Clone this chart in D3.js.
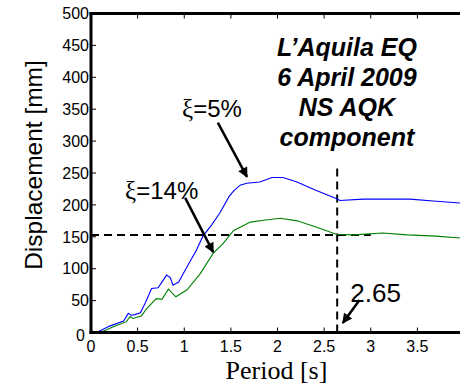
<!DOCTYPE html>
<html><head><meta charset="utf-8">
<script src="https://cdn.jsdelivr.net/npm/d3@7/dist/d3.min.js"></script>
<style>body{margin:0;background:#fff}svg{display:block}</style>
</head><body>
<svg id="c" width="460" height="386"></svg>
<script>
// ---- data ----
const bluePeriod = [0.06,0.2,0.35,0.40,0.43,0.47,0.53,0.58,0.65,0.72,0.76,0.81,0.85,0.88,0.94,1.03,1.13,1.20,1.29,1.38,1.48,1.53,1.60,1.67,1.81,1.94,2.06,2.21,2.39,2.63,2.67,2.92,3.20,3.42,3.67,3.96,4.0];
const blueDisp   = [0,10,18,30,27,28,31,46,69,70,79,90,86,74,79,103,129,151,168,187,213,222,231,234,236,243,243,236,224,210,207,209,209,209,206,203,202];
const greenPeriod = [0.10,0.24,0.38,0.42,0.45,0.54,0.60,0.70,0.76,0.83,0.91,1.03,1.17,1.31,1.42,1.48,1.53,1.71,1.85,2.03,2.21,2.42,2.63,2.81,3.13,3.39,3.70,3.96,4.0];
const greenDisp   = [0,9,17,25,22,26,38,53,52,68,56,67,92,124,140,151,160,173,176,179,175,165,154,153,156,153,151,148,148];
const xTicks = [0,0.5,1,1.5,2,2.5,3,3.5];
const xTickLabels = ["0","0.5","1","1.5","2","2.5","3","3.5"];
const yTicks = [0,50,100,150,200,250,300,350,400,450,500];
const refPeriod = 2.64, refDisp = 153, hLineEnd = 3.0, vLineTop = 260;
const titleLines = ["L\u2019Aquila EQ","6 April 2009","NS AQK","component"];
const titleX = 2.745, titleY = [434,387,339,292];
// annotation anchors in data units: [textX, textY, arrowFromX, arrowFromY, arrowToX, arrowToY]
const ann5 = [0.976,337, 1.36,329, 1.673,244];
const ann14 = [0.365,209.5, 1.01,211, 1.31,126];
const ann265 = [2.78,48, 2.88,51, 2.70,15];

// ---- drawing ----
const svg = d3.select("#c");
const x = d3.scaleLinear().domain([0,4]).range([91,464]);
const y = d3.scaleLinear().domain([0,500]).range([332.5,13.5]);
const sans = "'Liberation Sans', Arial, sans-serif";
const serif = "'Liberation Serif', 'Times New Roman', serif";

const defs = svg.append("defs");
defs.append("marker").attr("id","ah").attr("viewBox","0 0 10 10").attr("refX",9).attr("refY",5)
  .attr("markerWidth",13).attr("markerHeight",10).attr("markerUnits","userSpaceOnUse").attr("orient","auto")
  .append("path").attr("d","M0,0 L10,5 L0,10 Z").attr("fill","#000");

// ticks (inward)
const ax = svg.append("g").attr("stroke","#000").attr("stroke-width",1);
ax.selectAll("line.xb").data(xTicks).join("line")
  .attr("x1",d=>x(d)).attr("x2",d=>x(d)).attr("y1",y(0)).attr("y2",y(0)-5);
ax.selectAll("line.xt").data(xTicks).join("line")
  .attr("x1",d=>x(d)).attr("x2",d=>x(d)).attr("y1",y(500)).attr("y2",y(500)+5);
ax.selectAll("line.yl").data(yTicks).join("line")
  .attr("x1",x(0)).attr("x2",x(0)+5).attr("y1",d=>y(d)).attr("y2",d=>y(d));

// tick labels
svg.append("g").selectAll("text").data(xTicks).join("text")
  .attr("x",d=>x(d)).attr("y",352).attr("text-anchor","middle")
  .attr("font-family",sans).attr("font-size",16).text((d,i)=>xTickLabels[i]);
svg.append("g").selectAll("text").data(yTicks).join("text")
  .attr("x",d=>d===0?85:89).attr("y",d=>d===0?y(d)+3:y(d)).attr("dy","0.36em").attr("text-anchor","end")
  .attr("font-family",sans).attr("font-size",16).text(d=>d);

// dashed reference lines
svg.append("line").attr("x1",x(0)).attr("x2",x(hLineEnd)).attr("y1",y(refDisp)).attr("y2",y(refDisp))
  .attr("stroke","#000").attr("stroke-width",2).attr("stroke-dasharray","8,5");
svg.append("line").attr("x1",x(refPeriod)).attr("x2",x(refPeriod)).attr("y1",y(0)).attr("y2",y(vLineTop))
  .attr("stroke","#000").attr("stroke-width",2).attr("stroke-dasharray","8,5");

// curves
const line = d3.line().x(d=>x(d[0])).y(d=>y(d[1]));
svg.append("path").datum(greenPeriod.map((p,i)=>[p,greenDisp[i]])).attr("d",line)
  .attr("fill","none").attr("stroke","#008000").attr("stroke-width",1.1);
svg.append("path").datum(bluePeriod.map((p,i)=>[p,blueDisp[i]])).attr("d",line)
  .attr("fill","none").attr("stroke","#0000ff").attr("stroke-width",1.1);

// axis frame (thick)
const fr = svg.append("g").attr("stroke","#000").attr("stroke-width",3).attr("stroke-linecap","square");
fr.append("line").attr("x1",x(0)).attr("x2",x(0)).attr("y1",y(0)).attr("y2",y(500));
fr.append("line").attr("x1",x(0)).attr("x2",x(4)).attr("y1",y(0)).attr("y2",y(0));
fr.append("line").attr("x1",x(0)).attr("x2",x(4)).attr("y1",y(500)).attr("y2",y(500));

// axis titles
svg.append("text").attr("transform","translate(42,165) rotate(-90)").attr("text-anchor","middle")
  .attr("font-family",sans).attr("font-size",24.5).text("Displacement [mm]");
svg.append("text").attr("x",276.5).attr("y",379).attr("text-anchor","middle")
  .attr("font-family",serif).attr("font-size",26).text("Period [s]");

// title block
svg.append("g").selectAll("text").data(titleLines).join("text")
  .attr("x",x(titleX)).attr("y",(d,i)=>y(titleY[i])).attr("text-anchor","middle")
  .attr("font-family",sans).attr("font-size",25).attr("font-weight","bold").attr("font-style","italic")
  .text(d=>d);

// annotations
function xiLabel(a, txt){
  const t = svg.append("text").attr("x",x(a[0])).attr("y",y(a[1])).attr("font-family",sans).attr("font-size",24);
  t.append("tspan").attr("font-family",serif).attr("font-size",25).text("\u03be");
  t.append("tspan").text(txt);
}
function arrow(a){
  svg.append("line").attr("x1",x(a[2])).attr("y1",y(a[3])).attr("x2",x(a[4])).attr("y2",y(a[5]))
    .attr("stroke","#000").attr("stroke-width",2.5).attr("marker-end","url(#ah)");
}
xiLabel(ann5,"=5%"); arrow(ann5);
xiLabel(ann14,"=14%"); arrow(ann14);
svg.append("text").attr("x",x(ann265[0])).attr("y",y(ann265[1])).attr("font-family",sans).attr("font-size",26).text("2.65");
arrow(ann265);
</script>
</body></html>
